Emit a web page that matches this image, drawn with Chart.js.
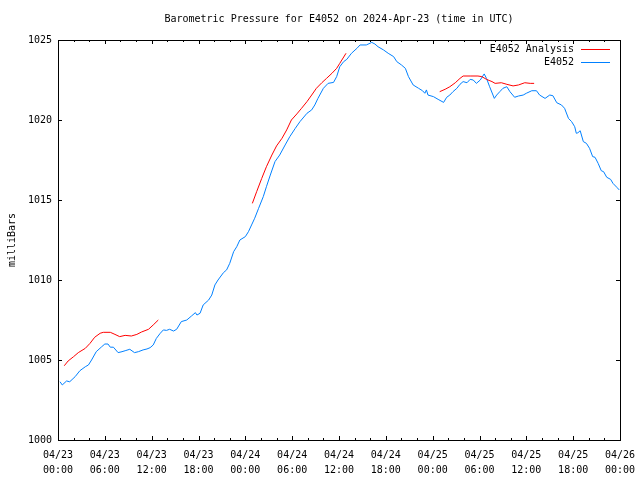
<!DOCTYPE html>
<html>
<head>
<meta charset="utf-8">
<script src="https://cdn.jsdelivr.net/npm/chart.js@4"></script>
<style>
  body { margin: 0; background: #fff; }
  canvas { display: block; }
</style>
</head>
<body>
<canvas id="chart" width="640" height="480"></canvas>
<script>
// hours since 2024-04-23 00:00 UTC
const stationHours = [
  0.26, 0.55, 1.1, 1.5, 2.2, 2.8, 3.5, 3.9, 4.3, 4.9, 5.6, 6.0, 6.4, 6.7, 7.1, 7.7,
  8.2, 8.6, 9.2, 9.8, 10.3, 10.9, 11.4, 11.8, 12.2, 12.6, 13.1, 13.5, 13.9, 14.3, 14.8,
  15.2, 15.8, 16.5, 17.1, 17.6, 17.8, 18.2, 18.6, 19.3, 19.7, 20.1, 20.5, 21.2, 21.6,
  22.0, 22.5, 22.9, 23.3, 24.0, 24.4, 24.8, 25.2, 25.7, 26.3, 26.7, 27.2, 27.8, 28.4,
  29.1, 29.7, 30.4, 31.0, 31.9, 32.5, 32.9, 33.3, 34.0, 34.6, 35.3, 35.7, 36.1, 36.6,
  37.0, 37.6, 38.3, 38.7, 39.5, 40.2, 40.6, 41.0, 41.7, 42.3, 43.0, 43.4, 44.0, 44.5,
  44.9, 45.5, 46.2, 46.7, 47.0, 47.2, 47.4, 48.1, 48.7, 49.4, 49.8, 50.2, 50.6, 51.1,
  51.5, 51.9, 52.4, 52.8, 53.2, 53.6, 54.1, 54.6, 54.9, 55.3, 55.9, 56.2, 56.6, 57.0,
  57.5, 57.9, 58.5, 59.0, 59.6, 60.0, 60.7, 61.3, 61.7, 62.4, 63.0, 63.4, 63.9, 64.5,
  64.9, 65.4, 65.8, 66.2, 66.4, 66.6, 66.9, 67.3, 67.7, 68.1, 68.5, 68.8, 69.2, 69.6,
  69.9, 70.3, 70.8, 71.1, 71.6, 71.9
];
const stationPressure = [
  1003.64, 1003.44, 1003.69, 1003.64, 1003.96, 1004.33, 1004.58, 1004.69, 1005.0, 1005.52, 1005.83, 1006.0, 1006.0, 1005.8, 1005.8, 1005.46,
  1005.52, 1005.58, 1005.67, 1005.46, 1005.52, 1005.63, 1005.69, 1005.77, 1005.94, 1006.35, 1006.67, 1006.88, 1006.85, 1006.92, 1006.81,
  1006.92, 1007.4, 1007.5, 1007.75, 1007.96, 1007.81, 1007.92, 1008.44, 1008.75, 1009.06, 1009.69, 1010.0, 1010.46, 1010.63,
  1011.04, 1011.77, 1012.08, 1012.5, 1012.71, 1013.02, 1013.44, 1013.86, 1014.48, 1015.21, 1015.83, 1016.56, 1017.4, 1017.81,
  1018.44, 1018.96, 1019.48, 1019.9, 1020.42, 1020.63, 1020.94, 1021.35, 1021.98, 1022.29, 1022.35, 1022.71, 1023.33, 1023.65,
  1023.79, 1024.17, 1024.48, 1024.69, 1024.69, 1024.85, 1024.75, 1024.58, 1024.38, 1024.17, 1023.96, 1023.65, 1023.44, 1023.23,
  1022.71, 1022.19, 1021.98, 1021.83, 1021.67, 1021.88, 1021.56, 1021.46, 1021.29, 1021.1, 1021.42, 1021.56, 1021.77, 1021.98,
  1022.23, 1022.4, 1022.33, 1022.54, 1022.5, 1022.29, 1022.5, 1022.88, 1022.6, 1022.08, 1021.35, 1021.56, 1021.77, 1021.98,
  1022.08, 1021.77, 1021.42, 1021.5, 1021.56, 1021.67, 1021.83, 1021.83, 1021.56, 1021.35, 1021.56, 1021.52, 1021.08, 1020.94,
  1020.73, 1020.1, 1019.9, 1019.58, 1019.17, 1019.2, 1019.33, 1018.65, 1018.54, 1018.23, 1017.71, 1017.67, 1017.29, 1016.83,
  1016.77, 1016.42, 1016.29, 1016.04, 1015.79, 1015.63
];

// analysis runs, null breaks the line between runs
const analysisHours = [
  0.8, 1.3, 2.0, 2.6, 3.5, 4.1, 4.7, 5.4, 5.8, 6.7, 7.3, 7.9, 8.6, 9.4, 10.1, 10.7, 11.6, 12.2, 12.85,
  18,
  24.9, 25.45, 26.1, 26.7, 27.4, 28.0, 28.7, 29.3, 29.9, 30.6, 31.2, 31.9, 32.5, 33.1, 33.8, 34.4, 35.1, 35.7, 36.1, 36.9,
  42,
  48.9, 49.6, 50.2, 50.9, 51.5, 51.9, 52.8, 53.8, 54.3, 54.9, 55.6, 56.0, 56.8, 57.5, 58.3, 59.0, 59.8, 60.5, 61.0
];
const analysisPressure = [
  1004.64, 1004.94, 1005.21, 1005.46, 1005.73, 1006.04, 1006.42, 1006.67, 1006.73, 1006.73, 1006.6, 1006.46, 1006.54, 1006.5, 1006.6, 1006.75, 1006.92, 1007.19, 1007.5,
  null,
  1014.79, 1015.52, 1016.35, 1017.08, 1017.81, 1018.38, 1018.86, 1019.38, 1020.0, 1020.38, 1020.73, 1021.15, 1021.56, 1021.98, 1022.33, 1022.6, 1022.92, 1023.23, 1023.54, 1024.17,
  null,
  1021.77, 1021.92, 1022.08, 1022.33, 1022.6, 1022.75, 1022.75, 1022.75, 1022.71, 1022.54, 1022.4, 1022.29, 1022.33, 1022.23, 1022.13, 1022.19, 1022.33, 1022.29, 1022.29
];

const dayLabels = ["04/23", "04/24", "04/25", "04/26"];
const titleText = "Barometric Pressure for E4052 on 2024-Apr-23 (time in UTC)";
const mono = "'DejaVu Sans Mono', 'Liberation Mono', monospace";

function toPoints(xs, ys) {
  return xs.map((x, i) => ({ x: x, y: ys[i] }));
}

function tickLabel(h) {
  const day = Math.floor(h / 24);
  const hr = h % 24;
  return [dayLabels[day], String(hr).padStart(2, "0") + ":00"];
}

// gnuplot style frame, inward ticks, title and legend
const gnuFrame = {
  id: "gnuFrame",
  afterDatasetsDraw(chart) {
    const ctx = chart.ctx;
    const a = chart.chartArea;
    const xs = chart.scales.x;
    const ys = chart.scales.y;
    ctx.save();
    ctx.strokeStyle = "#000";
    ctx.lineWidth = 1;
    ctx.strokeRect(a.left + 0.5, a.top + 0.5, a.right - a.left, a.bottom - a.top);

    ctx.beginPath();
    for (let h = 0; h <= 72; h += 2) {
      const px = Math.round(xs.getPixelForValue(h)) + 0.5;
      const len = h % 6 === 0 ? 4 : 2;
      ctx.moveTo(px, a.bottom);
      ctx.lineTo(px, a.bottom - len);
      ctx.moveTo(px, a.top);
      ctx.lineTo(px, a.top + len);
    }
    for (let v = 1000; v <= 1025; v += 5) {
      const py = Math.round(ys.getPixelForValue(v)) + 0.5;
      ctx.moveTo(a.left, py);
      ctx.lineTo(a.left + 4, py);
      ctx.moveTo(a.right, py);
      ctx.lineTo(a.right - 4, py);
    }
    ctx.stroke();

    ctx.fillStyle = "#000";
    ctx.font = "10px " + mono;
    ctx.textAlign = "center";
    ctx.textBaseline = "middle";
    ctx.fillText(titleText, (a.left + a.right) / 2, 19);

    ctx.textAlign = "right";
    chart.data.datasets.forEach((ds, i) => {
      const y = a.top + 9 + i * 13;
      ctx.fillStyle = "#000";
      ctx.fillText(ds.label, a.right - 46, y);
      ctx.strokeStyle = ds.borderColor;
      ctx.beginPath();
      ctx.moveTo(a.right - 39, y + 0.5);
      ctx.lineTo(a.right - 10, y + 0.5);
      ctx.stroke();
    });
    ctx.restore();
  }
};

new Chart(document.getElementById("chart"), {
  type: "line",
  data: {
    datasets: [
      {
        label: "E4052 Analysis",
        data: toPoints(analysisHours, analysisPressure),
        borderColor: "#ff0000",
        borderWidth: 1,
        pointRadius: 0,
        spanGaps: false
      },
      {
        label: "E4052",
        data: toPoints(stationHours, stationPressure),
        borderColor: "rgb(0,128,255)",
        borderWidth: 1,
        pointRadius: 0
      }
    ]
  },
  options: {
    responsive: false,
    animation: false,
    devicePixelRatio: 1,
    layout: { padding: { top: 40, right: 20, left: 0, bottom: 0 } },
    plugins: {
      legend: { display: false },
      tooltip: { enabled: false }
    },
    scales: {
      x: {
        type: "linear",
        min: 0,
        max: 72,
        grid: { display: false, drawTicks: false },
        border: { display: false },
        ticks: {
          stepSize: 6,
          autoSkip: false,
          maxRotation: 0,
          padding: 8,
          color: "#000",
          font: { family: mono, size: 10, lineHeight: 1.5 },
          callback: (v) => tickLabel(v)
        },
        afterFit: (s) => {
          s.height = 40;
          s.paddingLeft = 0;
          s.paddingRight = 0;
        }
      },
      y: {
        min: 1000,
        max: 1025,
        grid: { display: false, drawTicks: false },
        border: { display: false },
        ticks: {
          stepSize: 5,
          padding: 6,
          color: "#000",
          font: { family: mono, size: 10 },
          callback: (v) => String(v)
        },
        title: {
          display: true,
          text: "milliBars",
          color: "#000",
          padding: { top: 6, bottom: 0 },
          font: { family: mono, size: 10 }
        },
        afterFit: (s) => {
          s.width = 58;
          s.paddingTop = 0;
          s.paddingBottom = 0;
        }
      }
    }
  },
  plugins: [gnuFrame]
});
</script>
</body>
</html>
